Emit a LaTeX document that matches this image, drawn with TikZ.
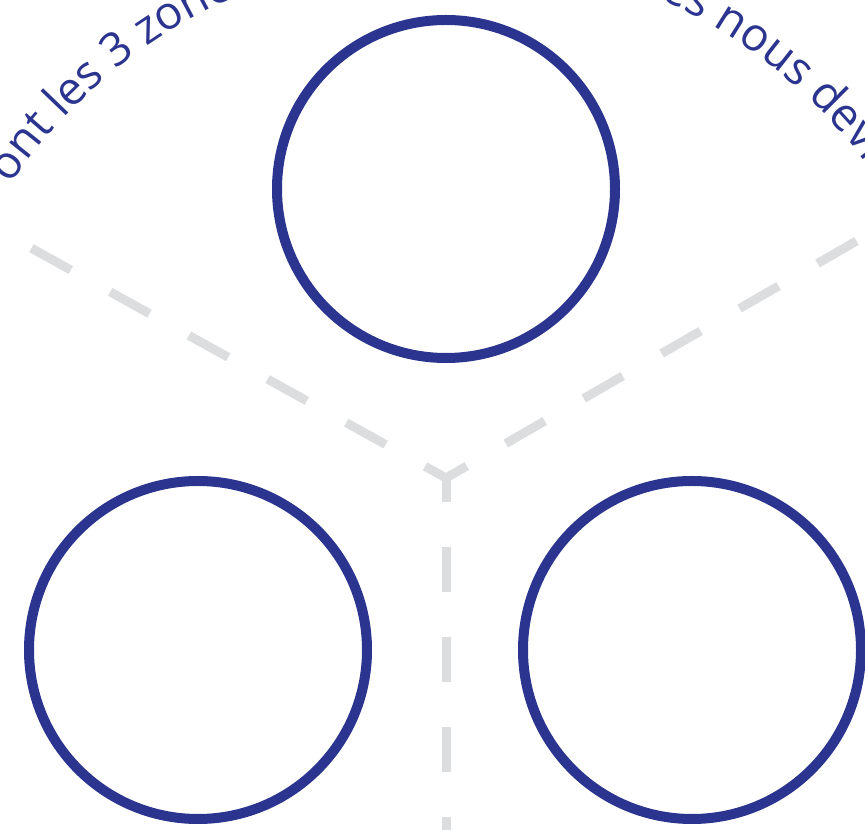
\documentclass[tikz,border=0pt]{standalone}
\usepackage{fontspec}
\setmainfont{Open Sans}
\usepackage{xcolor}
\usetikzlibrary{calc,decorations.text}
\definecolor{zoneblue}{RGB}{43,53,143}
\definecolor{sepgray}{RGB}{220,221,223}
\tikzset{
    zone/.style={circle,draw=zoneblue,line width=10pt,minimum size=338pt,inner sep=0pt,outer sep=0pt},
    sepline/.style={draw=sepgray,line width=9pt,dash pattern=on 45pt off 45pt,dash phase=21pt},
    arctext/.style={decorate,decoration={text along path,text align=left,
        text={|\color{zoneblue}\fontsize{46}{54}\selectfont|#1}}}
}
\begin{document}
\begin{tikzpicture}[x=1pt,y=1pt]
  \useasboundingbox (0,0) rectangle (865,830);
  \clip (0,0) rectangle (865,830);
  % centre of the three separators
  \coordinate (C) at (446,352);
  \coordinate (SL) at ($(C)+(151:474)$);
  \coordinate (SR) at ($(C)+(30:474)$);
  \coordinate (SB) at ($(C)+(270:474)$);
  % separators
  \draw[sepline] (C) -- (SL);
  \draw[sepline] (C) -- (SR);
  \draw[sepline] (C) -- (SB);
  % the three zones
  \node[zone] (Z1) at (446,641) {};
  \node[zone] (Z2) at (198,180) {};
  \node[zone] (Z3) at (692,180) {};
  % title on the arc, cut by the frame
  \path[arctext={ont les 3 zones}] ($(C)+(146:525)$) arc[start angle=146,end angle=80,radius=525];
  \path[arctext={es nous devr}] ($(C)+(66:525)$) arc[start angle=66,end angle=0,radius=525];
\end{tikzpicture}
\end{document}
